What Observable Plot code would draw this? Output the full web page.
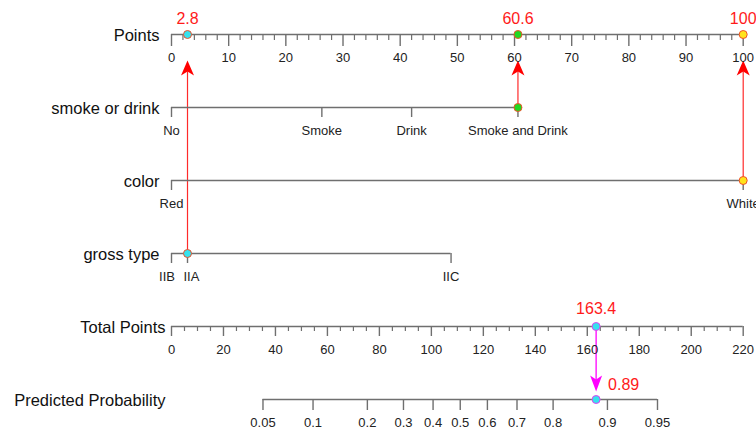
<!DOCTYPE html>
<html><head><meta charset="utf-8">
<script src="https://cdn.jsdelivr.net/npm/d3@7"></script>
<script src="https://cdn.jsdelivr.net/npm/@observablehq/plot@0.6"></script>
<style>html,body{margin:0;padding:0;background:#fff;} svg{display:block}</style>
</head><body><div id="chart"></div>
<script>
// ---- data ----
const rows = ["Points", "smoke or drink", "color", "gross type", "Total Points", "Predicted Probability"];
const pointsTicks = d3.range(0, 101, 10);
const pointsMinor = d3.range(0, 101, 2);
const smokeLevels = ["No", "Smoke", "Drink", "Smoke and Drink"];
const smokePoints = [0, 26.3, 42.0, 60.6];
const colorLevels = ["Red", "White"];
const colorPoints = [0, 100];
const grossLevels = ["IIB", "IIA", "IIC"];
const grossPoints = [0, 2.8, 48.9];
const totalTicks = d3.range(0, 221, 20);
const totalMinor = d3.range(0, 221, 5);
const probTicks = [0.05, 0.1, 0.2, 0.3, 0.4, 0.5, 0.6, 0.7, 0.8, 0.9, 0.95];
const selectedRows = ["gross type", "smoke or drink", "color"];
const selectedPoints = [2.8, 60.6, 100];
const selectedFills = ["#35e2ee", "#22d822", "#ffe41c"];
const totalScore = 163.4;
const predictedProb = 0.89;
const maxTotal = 220;
const lpIntercept = -4.31, lpSlope = 0.03879;

// ---- conversions onto the "Points" scale ----
const totalToPts = t => t * 100 / maxTotal;
const probToPts = p => totalToPts((Math.log(p / (1 - p)) - lpIntercept) / lpSlope);

const axisColor = "#6f6f6f";
const fontFamily = "'Liberation Sans', Arial, Helvetica, sans-serif";

const axes = [
  {row: "Points", from: 0, to: 100},
  {row: "smoke or drink", from: 0, to: d3.max(smokePoints)},
  {row: "color", from: 0, to: d3.max(colorPoints)},
  {row: "gross type", from: 0, to: d3.max(grossPoints)},
  {row: "Total Points", from: 0, to: totalToPts(maxTotal)},
  {row: "Predicted Probability", from: probToPts(d3.min(probTicks)), to: probToPts(d3.max(probTicks))}
];

const ptsMajor = pointsTicks.map(v => ({row: "Points", x: v, label: String(v)}));
const ptsMinor = pointsMinor.filter(v => v % 10 !== 0).map(v => ({row: "Points", x: v}));
const totMajor = totalTicks.map(v => ({row: "Total Points", x: totalToPts(v), label: String(v)}));
const totMinor = totalMinor.filter(v => v % 20 !== 0).map(v => ({row: "Total Points", x: totalToPts(v)}));
const probT = probTicks.map(p => ({row: "Predicted Probability", x: probToPts(p), label: String(p)}));
const cats = [
  ...smokeLevels.map((l, i) => ({row: "smoke or drink", x: smokePoints[i], label: l, key: ""})),
  ...colorLevels.map((l, i) => ({row: "color", x: colorPoints[i], label: l, key: ""})),
  ...grossLevels.map((l, i) => ({row: "gross type", x: grossPoints[i], label: l, key: l}))
];

const sel = selectedRows.map((r, i) => ({row: r, target: "Points", x: selectedPoints[i], fill: selectedFills[i], label: String(selectedPoints[i])}));
const totalSel = [{row: "Total Points", target: "Predicted Probability", x: totalToPts(totalScore), label: String(totalScore), prob: String(predictedProb)}];

const titlesA = rows.slice(0, 4).map(r => ({row: r}));
const titlesB = rows.slice(4).map(r => ({row: r}));

const headUp = {draw(ctx) { ctx.moveTo(0, 0); ctx.lineTo(6.5, 15); ctx.lineTo(0, 11); ctx.lineTo(-6.5, 15); ctx.closePath(); }};
const headDown = {draw(ctx) { ctx.moveTo(0, 0); ctx.lineTo(6, -16); ctx.lineTo(0, -12); ctx.lineTo(-6, -16); ctx.closePath(); }};

// tick helper: a short vertical rule hanging below the row line
const tick = (data, len, sw) => Plot.ruleX(data, {x: "x", y1: "row", y2: "row", insetTop: 0, insetBottom: -len, stroke: axisColor, strokeWidth: sw});

const chart = Plot.plot({
  width: 756,
  height: 433,
  marginLeft: 171,
  marginRight: 13.3,
  marginTop: 0,
  marginBottom: 0,
  x: {domain: [0, 100], axis: null},
  y: {type: "point", domain: rows, range: [33.3, 400], padding: 0, axis: null},
  style: {fontFamily, background: "#fff", overflow: "visible"},
  marks: [
    // arrows (lines)
    Plot.arrow(sel, {x1: "x", x2: "x", y1: "row", y2: "target", insetStart: 4, insetEnd: 37, headLength: 0, stroke: "#ff2a2a", strokeWidth: 1.2}),
    Plot.dot(sel, {x: "x", y: "target", dy: 26, symbol: headUp, r: 5, fill: "#ff0000", stroke: "none"}),
    Plot.arrow(totalSel, {x1: "x", x2: "x", y1: "row", y2: "target", insetStart: 4, insetEnd: 19, headLength: 0, stroke: "#ff00ff", strokeWidth: 1.3}),
    Plot.dot(totalSel, {x: "x", y: "target", dy: -8, symbol: headDown, r: 5, fill: "#ff00ff", stroke: "none"}),
    // axis lines
    Plot.ruleY(axes, {y: "row", x1: "from", x2: "to", stroke: axisColor, strokeWidth: 1.4}),
    // ticks
    tick(ptsMajor, 12, 1.4),
    tick(ptsMinor, 6, 1.2),
    tick(totMajor, 10, 1.4),
    tick(totMinor, 5, 1.2),
    tick(probT, 11, 1.4),
    tick(cats, 10, 1.4),
    // tick labels
    Plot.text([...ptsMajor, ...totMajor, ...probT], {x: "x", y: "row", text: "label", dy: 23, fontSize: 13, fill: "#222"}),
    Plot.text(cats.filter(d => d.key !== "IIB" && d.key !== "IIA"), {x: "x", y: "row", text: "label", dy: 23, fontSize: 13, fill: "#222"}),
    Plot.text(cats.filter(d => d.key === "IIB"), {x: "x", y: "row", text: "label", dy: 23, dx: 3.5, textAnchor: "end", fontSize: 13, fill: "#222"}),
    Plot.text(cats.filter(d => d.key === "IIA"), {x: "x", y: "row", text: "label", dy: 23, dx: -4, textAnchor: "start", fontSize: 13, fill: "#222"}),
    // row titles
    Plot.text(titlesA, {y: "row", text: "row", frameAnchor: "left", textAnchor: "end", dx: -12, dy: 1, fontSize: 16.5, fill: "#111"}),
    Plot.text(titlesB, {y: "row", text: "row", frameAnchor: "left", textAnchor: "end", dx: -6, dy: 1, fontSize: 16.5, fill: "#111"}),
    // selected points
    Plot.dot(sel, {x: "x", y: "row", r: 4, fill: "fill", stroke: "#f0502a", strokeWidth: 1}),
    Plot.dot(sel, {x: "x", y: "target", r: 4, fill: "fill", stroke: "#f0502a", strokeWidth: 1}),
    Plot.dot(totalSel, {x: "x", y: "row", r: 4, fill: "#35e2ee", stroke: "#e040f0", strokeWidth: 1}),
    Plot.dot(totalSel, {x: "x", y: "target", r: 4, fill: "#35e2ee", stroke: "#e040f0", strokeWidth: 1}),
    // red value labels
    Plot.text(sel, {x: "x", y: "target", text: "label", dy: -16, fontSize: 16, fill: "#ff1a1a"}),
    Plot.text(totalSel, {x: "x", y: "row", text: "label", dy: -18, fontSize: 16, fill: "#ff1a1a"}),
    Plot.text(totalSel, {x: "x", y: "target", text: "prob", dy: -15, dx: 12, textAnchor: "start", fontSize: 16, fill: "#ff1a1a"})
  ]
});
chart.setAttribute("color", "#222");
document.getElementById("chart").append(chart);
</script>
</body></html>
